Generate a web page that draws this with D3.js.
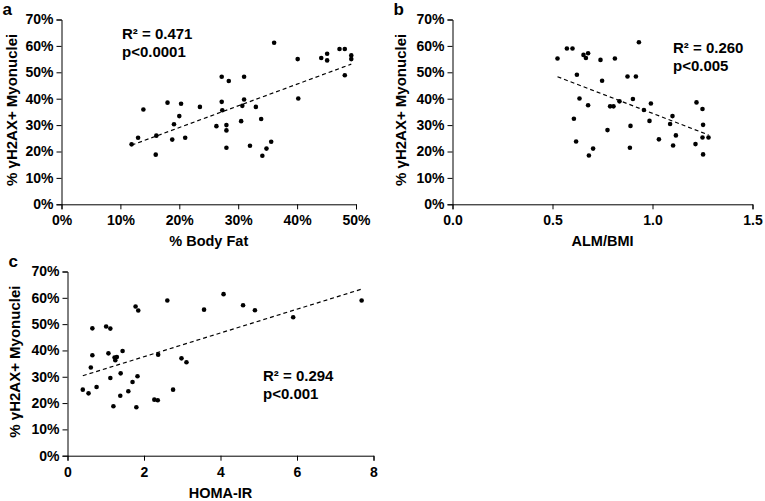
<!DOCTYPE html>
<html>
<head>
<meta charset="utf-8">
<script src="https://cdn.jsdelivr.net/npm/d3@7"></script>
<style>
  body { margin: 0; background: #fff; }
  text { font-family: "Liberation Sans", Arial, sans-serif; font-weight: bold; fill: #000; }
</style>
</head>
<body>
<script>
// Panel a: % body fat vs % yH2AX+ myonuclei
var fatX = [11.9, 13.0, 13.9, 16.1, 16.0, 18.0, 19.1, 18.8, 20.0, 20.3, 21.0, 23.5, 26.3, 27.2,
  27.2, 27.3, 28.4, 28.0, 28.0, 28.0, 30.5, 30.7, 31.0, 31.0, 32.0, 33.0, 33.9, 34.1, 34.8,
  35.6, 36.1, 40.1, 40.2, 44.1, 45.1, 45.1, 47.2, 48.1, 48.1, 49.2, 49.2];
var fatY = [22.7, 25.2, 35.9, 26.0, 18.8, 38.5, 30.3, 24.5, 33.4, 38.1, 25.2, 36.9, 29.6, 48.3,
  38.8, 35.6, 46.7, 30.0, 28.0, 21.4, 31.5, 37.3, 48.3, 39.7, 22.2, 36.9, 32.3, 18.4, 21.1,
  23.7, 61.2, 55.0, 40.1, 55.4, 57.0, 54.5, 58.8, 58.8, 48.9, 56.4, 55.0];

// Panel b: ALM/BMI
var almX = [0.525, 0.572, 0.600, 0.622, 0.635, 0.607, 0.618, 0.655, 0.667, 0.678, 0.678, 0.682,
  0.703, 0.740, 0.748, 0.775, 0.788, 0.805, 0.812, 0.835, 0.875, 0.890, 0.887, 0.902, 0.917,
  0.932, 0.957, 0.985, 0.992, 1.032, 1.088, 1.100, 1.103, 1.117, 1.215, 1.220, 1.250, 1.253,
  1.250, 1.253, 1.280];
var almY = [55.2, 59.0, 59.0, 49.1, 40.1, 32.4, 23.8, 56.6, 55.4, 57.2, 37.5, 18.5, 21.1, 54.7,
  46.8, 28.1, 37.1, 37.1, 55.2, 39.0, 48.4, 29.7, 21.4, 39.9, 48.4, 61.4, 35.7, 31.6, 38.2,
  24.6, 30.4, 33.4, 22.3, 26.1, 22.8, 38.6, 36.1, 30.1, 25.3, 18.9, 25.3];

// Panel c: HOMA-IR
var homaX = [0.40, 0.55, 0.61, 0.65, 0.65, 0.76, 1.01, 1.07, 1.12, 1.12, 1.20, 1.23, 1.25, 1.29,
  1.39, 1.38, 1.44, 1.59, 1.70, 1.78, 1.85, 1.80, 1.83, 2.27, 2.36, 2.37, 2.61, 2.76, 2.98,
  3.11, 3.57, 4.08, 4.59, 4.90, 5.90, 7.69];
var homaY = [25.1, 23.7, 33.5, 48.4, 38.2, 26.1, 49.1, 38.9, 29.5, 48.3, 18.8, 37.3, 36.3, 37.5,
  31.3, 22.8, 39.8, 24.5, 28.0, 56.7, 55.2, 18.4, 30.2, 21.3, 21.1, 38.4, 59.0, 25.1, 37.0,
  35.5, 55.5, 61.4, 57.2, 55.3, 52.6, 59.0];

var yTicks = [0, 10, 20, 30, 40, 50, 60, 70];
var fatTicks = [0, 10, 20, 30, 40, 50];
var almTicks = [0, 0.5, 1.0, 1.5];
var homaTicks = [0, 2, 4, 6, 8];

var svg = d3.select("body").append("svg")
  .attr("width", 765)
  .attr("height", 501);

var panels = [
  { label: "a", xs: fatX, ys: fatY, ticks: fatTicks, dom: [0, 50], fmt: d => d + "%",
    title: "% Body Fat", x0: 61.5, x1: 356, y0: 204.3, y1: 19.5, titleX: 17,
    stat: ["R² = 0.471", "p<0.0001"], statX: 122, statY: 39 },
  { label: "b", xs: almX, ys: almY, ticks: almTicks, dom: [0, 1.5], fmt: d3.format(".1f"),
    title: "ALM/BMI", x0: 452.5, x1: 752.5, y0: 204.3, y1: 19.5, titleX: 406,
    stat: ["R² = 0.260", "p<0.005"], statX: 673, statY: 53 },
  { label: "c", xs: homaX, ys: homaY, ticks: homaTicks, dom: [0, 8], fmt: d => d,
    title: "HOMA-IR", x0: 67.5, x1: 373.5, y0: 455.7, y1: 271.5, titleX: 19.5,
    stat: ["R² = 0.294", "p<0.001"], statX: 263, statY: 381 }
];

panels.forEach(function (p) {
  var x = d3.scaleLinear().domain(p.dom).range([p.x0, p.x1]);
  var y = d3.scaleLinear().domain([0, 70]).range([p.y0, p.y1]);
  var g = svg.append("g");

  // axes
  var xAxis = g.append("g")
    .attr("transform", "translate(0," + p.y0 + ")")
    .call(d3.axisBottom(x).tickValues(p.ticks).tickFormat(p.fmt).tickSizeOuter(0).tickSize(5).tickPadding(6));
  var yAxis = g.append("g")
    .attr("transform", "translate(" + p.x0 + ",0)")
    .call(d3.axisLeft(y).tickValues(yTicks).tickFormat(d => d + "%").tickSizeOuter(0).tickSize(5).tickPadding(3));
  [xAxis, yAxis].forEach(function (ax) {
    ax.selectAll("text").style("font-size", "14px").style("font-family", null).attr("fill", "#000");
    ax.selectAll("line,path").attr("stroke", "#000");
  });

  // axis titles
  g.append("text")
    .attr("x", (p.x0 + p.x1) / 2)
    .attr("y", p.y0 + 42)
    .attr("text-anchor", "middle")
    .style("font-size", "14.5px")
    .text(p.title);
  g.append("text")
    .attr("transform", "translate(" + p.titleX + "," + ((p.y0 + p.y1) / 2 - 2) + ") rotate(-90)")
    .attr("text-anchor", "middle")
    .style("font-size", "15px")
    .text("% γH2AX+ Myonuclei");

  // panel letter
  g.append("text")
    .attr("x", p.x0 - 59)
    .attr("y", p.y1 - 5)
    .style("font-size", "17px")
    .text(p.label);

  // linear trendline
  var mx = d3.mean(p.xs), my = d3.mean(p.ys);
  var sxy = d3.sum(p.xs, (v, i) => (v - mx) * (p.ys[i] - my));
  var sxx = d3.sum(p.xs, v => (v - mx) * (v - mx));
  var slope = sxy / sxx, icpt = my - slope * mx;
  var ext = d3.extent(p.xs);
  g.append("line")
    .attr("x1", x(ext[0])).attr("y1", y(icpt + slope * ext[0]))
    .attr("x2", x(ext[1])).attr("y2", y(icpt + slope * ext[1]))
    .attr("stroke", "#000")
    .attr("stroke-width", 1.2)
    .attr("stroke-dasharray", "4,3");

  // points
  g.selectAll("circle")
    .data(p.xs)
    .enter()
    .append("circle")
    .attr("cx", d => x(d))
    .attr("cy", (d, i) => y(p.ys[i]))
    .attr("r", 2.3)
    .attr("fill", "#000");

  // stats
  p.stat.forEach(function (s, i) {
    g.append("text")
      .attr("x", p.statX)
      .attr("y", p.statY + i * 18)
      .style("font-size", "15px")
      .text(s);
  });
});
</script>
</body>
</html>
